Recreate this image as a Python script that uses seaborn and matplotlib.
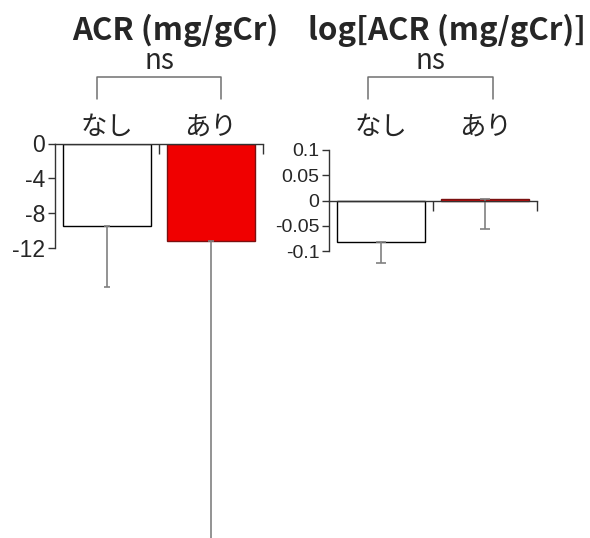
import matplotlib
matplotlib.use("Agg")
import matplotlib.pyplot as plt
import seaborn as sns
import numpy as np
import pandas as pd

sns.set_theme(style="white")
plt.rcParams['font.family'] = ['Noto Sans CJK JP', 'DejaVu Sans']

# data
categories = ["なし", "あり"]
acr_mean = [-9.5, -11.2]
acr_sd = [7.1, 36.0]
log_acr_mean = [-0.083, 0.003]
log_acr_sd = [0.041, 0.060]
bar_colors = ["#ffffff", "#f00000"]
edge_colors = ["#000000", "#7a1010"]
titles = ["ACR (mg/gCr)", "log[ACR (mg/gCr)]"]
sig_label = "ns"
acr_ticks = [0, -4, -8, -12]
log_ticks = [0.1, 0.05, 0, -0.05, -0.1]
log_tick_labels = ["0.1", "0.05", "0", "-0.05", "-0.1"]

W, H = 590, 538
fig = plt.figure(figsize=(W / 100, H / 100), dpi=100)
fig.patch.set_facecolor("white")


def fx(px):
    return px / W


def fy(py):
    return 1 - py / H


axis_color = "#333333"
err_color = "#808080"


def draw_panel(ax, means, sds, capsize):
    df = pd.DataFrame({"group": categories, "value": means})
    sns.barplot(data=df, x="group", y="value", hue="group", palette=bar_colors,
                saturation=1, width=0.85, errorbar=None, legend=False, ax=ax,
                order=categories)
    for patch, ec in zip(ax.patches, edge_colors):
        patch.set_edgecolor(ec)
        patch.set_linewidth(1.0)
    x = np.arange(len(categories))
    eb = ax.errorbar(x, means, yerr=[sds, np.zeros(len(sds))], fmt="none",
                     ecolor=err_color, elinewidth=1.2, capsize=capsize,
                     capthick=1.2, zorder=1)
    # whiskers may run past the drawn value range
    for art in eb.lines[1] + eb.lines[2]:
        art.set_clip_on(False)
    ax.set_xlim(-0.5, len(categories) - 0.5)
    ax.set_xlabel("")
    ax.set_ylabel("")
    ax.set_facecolor("none")
    for s in ["right", "bottom"]:
        ax.spines[s].set_visible(False)
    ax.spines["left"].set_color(axis_color)
    ax.spines["top"].set_color(axis_color)
    ax.spines["left"].set_linewidth(1.0)
    ax.spines["top"].set_linewidth(1.0)
    ax.xaxis.tick_top()
    ax.set_xticks(np.arange(len(categories)) + 0.5)
    ax.set_xticklabels([])
    ax.tick_params(axis="x", direction="in", length=7, color=axis_color, width=1.0)
    ax.tick_params(axis="y", direction="out", length=5, color=axis_color,
                   width=1.0, pad=2, left=True)


def category_labels(ax, y_px):
    # group names sit above each panel, centred on the bars
    for i, c in enumerate(categories):
        xf = fig.transFigure.inverted().transform(
            ax.transData.transform((i, 0)))[0]
        fig.text(xf, fy(y_px), c, ha="center", va="center", fontsize=19)


# left panel: ACR
ax1 = fig.add_axes([fx(55), 0, fx(263) - fx(55), fy(143.5)])
draw_panel(ax1, acr_mean, acr_sd, capsize=2.5)
ax1.set_ylim(-(H - 143.5) / 8.67, 0)
ax1.spines["left"].set_bounds(-12, 0)
ax1.set_yticks(acr_ticks)
ax1.set_yticklabels([str(t) for t in acr_ticks], fontsize=16.5,
                    family=["Liberation Sans"])

# right panel: log ACR
ax2 = fig.add_axes([fx(329), fy(251), fx(537) - fx(329), fy(150) - fy(251)])
draw_panel(ax2, log_acr_mean, log_acr_sd, capsize=3.4)
ax2.set_ylim(-0.1, 0.1)
ax2.spines["top"].set_position(("data", 0))
ax2.set_yticks(log_ticks)
ax2.set_yticklabels(log_tick_labels, fontsize=14, family=["Liberation Sans"])

category_labels(ax1, 127)
category_labels(ax2, 127)

# titles, significance brackets
for cx, x0, x1, title in [(175, 97, 221, titles[0]), (447, 368, 493, titles[1])]:
    fig.text(fx(cx), fy(30), title, ha="center", va="center", fontsize=22.5,
             fontweight="bold")
    fig.text(fx((x0 + x1) / 2), fy(61), sig_label, ha="center", va="center",
             fontsize=20)
    fig.add_artist(plt.Line2D([fx(x0), fx(x0), fx(x1), fx(x1)],
                              [fy(99), fy(77), fy(77), fy(99)],
                              color="#707070", lw=1.1))

fig.savefig("out.png", dpi=100, facecolor="white")
